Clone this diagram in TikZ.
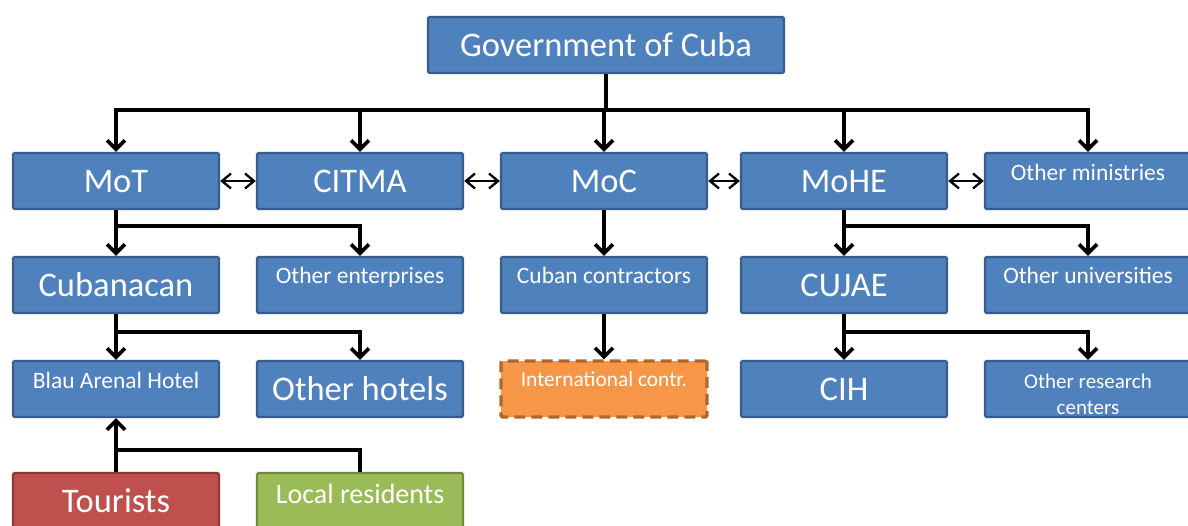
\documentclass[tikz,border=0pt]{standalone}
\usepackage{fontspec}
\setmainfont{Carlito}
\usetikzlibrary{arrows.meta}

\definecolor{bfill}{HTML}{4F81BD}
\definecolor{bline}{HTML}{385D8A}
\definecolor{ofill}{HTML}{F79646}
\definecolor{oline}{HTML}{B0672C}
\definecolor{rfill}{HTML}{C0504D}
\definecolor{rline}{HTML}{8C3836}
\definecolor{gfill}{HTML}{9BBB59}
\definecolor{gline}{HTML}{71893F}

\tikzset{
  box/.style={draw=bline, fill=bfill, line width=2.4pt, rounded corners=1.5pt,
    minimum width=206pt, minimum height=56pt, inner sep=0pt, text=white,
    text height=25pt, text depth=3pt},
  big/.style={font=\fontsize{34.5}{40}\selectfont},
  % smaller labels sit towards the top of their box
  small/.style={font=\fontsize{23.5}{28}\selectfont, text depth=#1},
  small/.default=27pt,
  link/.style={draw=black, line width=3.6pt, line join=miter},
  arr/.style={link, -{Straight Barb[length=9pt,width=18pt]}},
  dbl/.style={draw=black, line width=2.3pt,
    {Straight Barb[length=9pt,width=15pt]}-{Straight Barb[length=9pt,width=15pt]}},
}

\begin{document}
\begin{tikzpicture}[x=1pt,y=-1pt]
\useasboundingbox (0,0) rectangle (1188,525);
\clip (0,0) rectangle (1188,525);

% top level
\node[box, big, minimum width=356pt] (gov) at (606,45) {Government of Cuba};

% ministries
\node[box, big] (mot)   at (116,181) {MoT};
\node[box, big] (citma) at (360,181) {CITMA};
\node[box, big] (moc)   at (604,181) {MoC};
\node[box, big] (mohe)  at (844,181) {MoHE};
\node[box, small] (omin) at (1088,181) {Other ministries};

% enterprises and universities
\node[box, big] (cuba)  at (116,285) {Cubanacan};
\node[box, small=28pt] (oent) at (360,285) {Other enterprises};
\node[box, small=28pt] (ccon) at (604,285) {Cuban contractors};
\node[box, big] (cujae) at (844,285) {CUJAE};
\node[box, small=28pt] (ouni) at (1088,285) {Other universities};

% hotels, contractors, centres
\node[box, small] (blau) at (116,389) {Blau Arenal Hotel};
\node[box, big] (ohot) at (360,389) {Other hotels};
\node[box, font=\fontsize{21.4}{26}\selectfont, text depth=30pt, fill=ofill, draw=oline,
      dash pattern=on 11pt off 6pt, line width=3.2pt] (intl) at (604,389) {International contr.};
\node[box, big] (cih) at (844,389) {CIH};
\node[box, font=\fontsize{21}{26}\selectfont, align=center, text height=, text depth=]
      (ores) at (1088,389) {\rule{0pt}{25pt}Other research\\centers};

% users
\node[box, big, fill=rfill, draw=rline] (tour) at (116,501) {Tourists};
\node[box, font=\fontsize{28}{32}\selectfont, text depth=20pt, fill=gfill, draw=gline]
      (locr) at (360,501) {Local residents};

% branch levels
\coordinate (bus0) at (0,110);
\coordinate (bus1) at (0,226);
\coordinate (bus2) at (0,332);
\coordinate (bus3) at (0,450);

% government to ministries
\draw[link] (gov.south) -- (gov.south |- bus0);
\draw[arr] (gov.south |- bus0) -| (mot.north);
\draw[arr] (gov.south |- bus0) -| (citma.north);
\draw[arr] (gov.south |- bus0) -| (moc.north);
\draw[arr] (gov.south |- bus0) -| (mohe.north);
\draw[arr] (gov.south |- bus0) -| (omin.north);

% links between ministries
\draw[dbl] (mot.east) -- (citma.west);
\draw[dbl] (citma.east) -- (moc.west);
\draw[dbl] (moc.east) -- (mohe.west);
\draw[dbl] (mohe.east) -- (omin.west);

% MoT branch
\draw[arr] (mot.south) -- (cuba.north);
\draw[arr] (mot.south |- bus1) -| (oent.north);
\draw[arr] (cuba.south) -- (blau.north);
\draw[arr] (cuba.south |- bus2) -| (ohot.north);

% MoC branch
\draw[arr] (moc.south) -- (ccon.north);
\draw[arr] (ccon.south) -- (intl.north);

% MoHE branch
\draw[arr] (mohe.south) -- (cujae.north);
\draw[arr] (mohe.south |- bus1) -| (ouni.north);
\draw[arr] (cujae.south) -- (cih.north);
\draw[arr] (cujae.south |- bus2) -| (ores.north);

% users to the hotel
\draw[arr] (tour.north) -- (blau.south);
\draw[link] (locr.north) |- (tour.north |- bus3);
\end{tikzpicture}
\end{document}
